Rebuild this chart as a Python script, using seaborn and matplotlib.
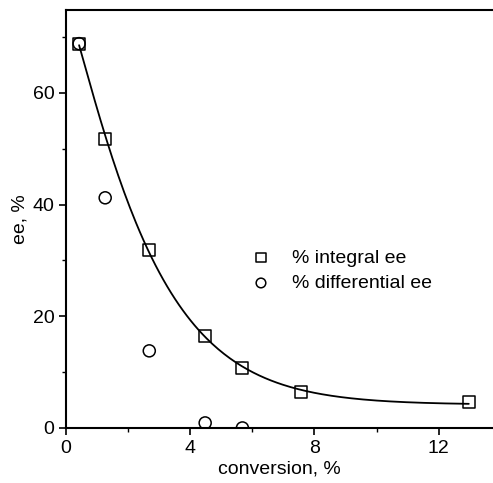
import numpy as np
import pandas as pd
import matplotlib
matplotlib.use("Agg")
import matplotlib.pyplot as plt
import seaborn as sns
from matplotlib.ticker import MultipleLocator

# values
conversion = [0.42, 1.26, 2.68, 4.48, 5.68, 7.58, 12.97]
integral_ee = [68.8, 51.7, 31.9, 16.5, 10.7, 6.4, 4.65]
diff_conversion = [0.42, 1.26, 2.68, 4.48, 5.68]
differential_ee = [68.8, 41.2, 13.8, 0.9, 0.0]

sns.set_theme(style="ticks")
plt.rcParams["font.family"] = ["Liberation Sans", "DejaVu Sans"]
plt.rcParams["text.color"] = "black"

# stretched exponential fit through the integral points: y0 + A*exp(-(x/t)^p)
x = np.array(conversion)
y = np.array(integral_ee)
best = None
for t in np.linspace(1, 8, 141):
    for p in np.linspace(0.6, 2.0, 71):
        M = np.column_stack([np.ones_like(x), np.exp(-(x / t) ** p)])
        coef = np.linalg.lstsq(M, y, rcond=None)[0]
        if np.any(coef < 0):
            continue
        err = np.sum((M @ coef - y) ** 2)
        if best is None or err < best[0]:
            best = (err, t, p, coef)
_, tau, pw, coef = best
xfit = np.linspace(x.min(), x.max(), 200)
yfit = coef[0] + coef[1] * np.exp(-(xfit / tau) ** pw)
fit = pd.DataFrame({"x": xfit, "y": yfit})

fig = plt.figure(figsize=(4.93, 4.83), dpi=100)
ax = fig.add_axes([0.134, 0.114, 0.866, 0.865])

sns.lineplot(data=fit, x="x", y="y", color="black", linewidth=1.3, ax=ax)
sns.scatterplot(x=conversion, y=integral_ee, marker="s", s=75, facecolor="none",
                edgecolor="black", linewidth=1.1, ax=ax, label="% integral ee", zorder=3)
sns.scatterplot(x=diff_conversion, y=differential_ee, marker="o", s=75, facecolor="none",
                edgecolor="black", linewidth=1.1, ax=ax, label="% differential ee", zorder=3)

ax.set_xlim(0, 13.75)
ax.set_ylim(0, 74.8)
ax.xaxis.set_major_locator(MultipleLocator(4))
ax.xaxis.set_minor_locator(MultipleLocator(2))
ax.yaxis.set_major_locator(MultipleLocator(20))
ax.yaxis.set_minor_locator(MultipleLocator(10))
ax.tick_params(which="major", length=5, width=1.2, labelsize=14, color="black", labelcolor="black")
ax.tick_params(which="minor", length=3, width=1.0, color="black")
for side in ["left", "bottom", "top"]:
    ax.spines[side].set_color("black")
    ax.spines[side].set_linewidth(1.5)
ax.spines["right"].set_visible(False)

ax.set_xlabel("conversion, %", fontsize=14, color="black", labelpad=3)
ax.set_ylabel("ee, %", fontsize=14, color="black", labelpad=3)

ax.legend(loc="upper left", bbox_to_anchor=(0.37, 0.47), frameon=False, fontsize=14,
          handletextpad=0.6, markerscale=0.8, labelspacing=0.4)

fig.savefig("out.png", dpi=100)
